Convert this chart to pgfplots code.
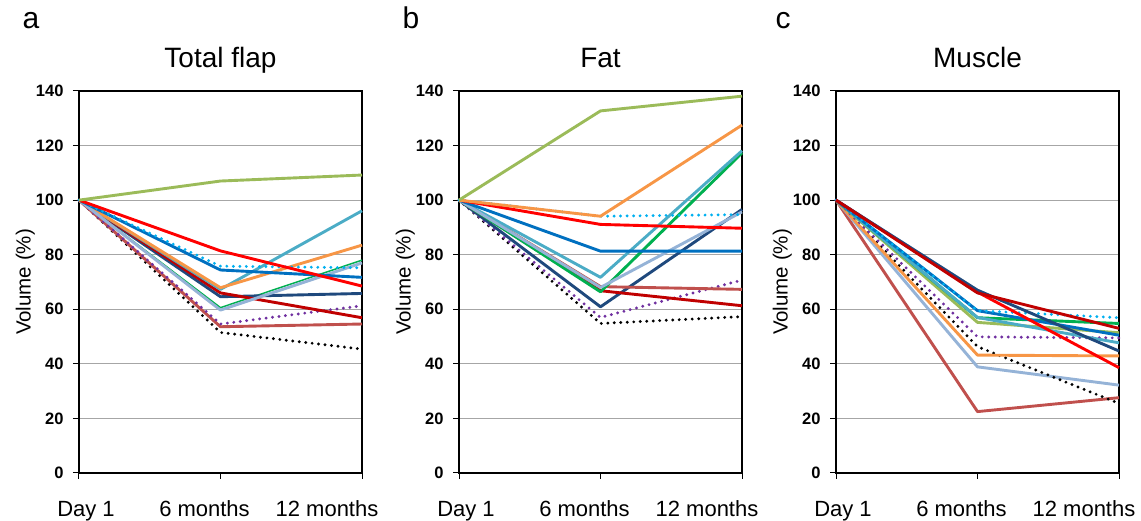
\documentclass[border=0pt]{standalone}
\usepackage{fontspec}
\setmainfont{Liberation Sans}
\usepackage{pgfplots}
\pgfplotsset{compat=1.18}

\definecolor{cOlive}{HTML}{9BBB59}
\definecolor{cRed}{HTML}{FF0000}
\definecolor{cBlue}{HTML}{0070C0}
\definecolor{cSky}{HTML}{00B0F0}
\definecolor{cTeal}{HTML}{4BACC6}
\definecolor{cOrange}{HTML}{F79646}
\definecolor{cDkRed}{HTML}{C00000}
\definecolor{cNavy}{HTML}{1F497D}
\definecolor{cGreen}{HTML}{00B050}
\definecolor{cSteel}{HTML}{95B3D7}
\definecolor{cPurple}{HTML}{7030A0}
\definecolor{cBrick}{HTML}{C0504D}
\definecolor{gridgray}{HTML}{A6A6A6}

\pgfplotsset{
  panel/.style={
    scale only axis, width=283pt, height=382pt, anchor=south west,
    xmin=0, xmax=2, ymin=0, ymax=140,
    ytick={0,20,...,140}, xtick={0,1,2},
    xticklabels={{\hspace*{14pt}Day 1},{6 months\hspace*{32pt}},{12 months\hspace*{70pt}}},
    ymajorgrids, major grid style={color=gridgray, line width=1.1pt},
    axis line style={black, line width=1.1pt},
    tick align=outside, tick pos=left, major tick length=6pt,
    tick style={black, line width=1pt},
    /pgf/number format/assume math mode=true,
    yticklabel style={font=\bfseries\fontsize{16.5}{18}\selectfont, anchor=east, xshift=-6pt},
    xticklabel style={font=\fontsize{22}{24}\selectfont, anchor=base, yshift=-38pt},
    ylabel={Volume (\%)},
    ylabel style={at={(axis description cs:-0.19,0.5)}, anchor=center,
      font=\fontsize{20.5}{24}\selectfont},
    title style={at={(axis description cs:0.5,1)}, anchor=base, yshift=17pt,
      font=\fontsize{28}{30}\selectfont},
    clip=false,
  },
  sl/.style={line width=2.9pt, line join=round},
  sd/.style={line width=3.2pt, line cap=round, dash pattern=on 0pt off 6.5pt},
}

\begin{document}
\begin{tikzpicture}
\path[use as bounding box] (0,0) rectangle (1141pt,521pt);

\node[anchor=base west, font=\fontsize{30}{32}\selectfont] at (19pt,492pt) {a};
\node[anchor=base west, font=\fontsize{30}{32}\selectfont] at (399pt,492pt) {b};
\node[anchor=base west, font=\fontsize{30}{32}\selectfont] at (772pt,492pt) {c};

% a: total flap
\begin{axis}[panel, at={(79pt,48pt)}, title={Total flap}]
\addplot[sd, black] coordinates {(0,100) (1,51.5) (2,45.4)};
\addplot[sl, cBrick] coordinates {(0,100) (1,53.6) (2,54.6)};
\addplot[sd, cPurple] coordinates {(0,100) (1,54.6) (2,61.3)};
\addplot[line width=1.5pt, cGreen] coordinates {(0,100) (1,60.6) (2,78.0)};
\addplot[sl, cNavy] coordinates {(0,100) (1,64.6) (2,65.8)};
\addplot[sl, cDkRed] coordinates {(0,100) (1,66.0) (2,56.9)};
\addplot[sl, cTeal] coordinates {(0,100) (1,67.3) (2,96.1)};
\addplot[sl, cOrange] coordinates {(0,100) (1,67.9) (2,83.5)};
\addplot[sl, cSteel] coordinates {(0,100) (1,59.7) (2,77.0)};
\addplot[sl, cBlue] coordinates {(0,100) (1,74.4) (2,71.7)};
\addplot[sd, cSky] coordinates {(0,100) (1,75.8) (2,75.2)};
\addplot[sl, cRed] coordinates {(0,100) (1,81.4) (2,68.5)};
\addplot[sl, cOlive] coordinates {(0,100) (1,107.0) (2,109.2)};
\end{axis}

% b: fat
\begin{axis}[panel, at={(459pt,48pt)}, title={Fat}]
\addplot[sd, black] coordinates {(0,100) (1,54.8) (2,57.3)};
\addplot[sd, cPurple] coordinates {(0,100) (1,57.0) (2,70.7)};
\addplot[sl, cNavy] coordinates {(0,100) (1,60.9) (2,96.6)};
\addplot[sl, cDkRed] coordinates {(0,100) (1,66.8) (2,61.3)};
\addplot[sl, cBrick] coordinates {(0,100) (1,68.3) (2,67.3)};
\addplot[sl, cGreen] coordinates {(0,100) (1,66.4) (2,117.3)};
\addplot[sl, cTeal] coordinates {(0,100) (1,71.7) (2,118.1)};
\addplot[sl, cSteel] coordinates {(0,100) (1,68.0) (2,95.7)};
\addplot[sl, cBlue] coordinates {(0,100) (1,81.3) (2,81.3)};
\addplot[sl, cRed] coordinates {(0,100) (1,91.1) (2,89.7)};
\addplot[sd, cSky] coordinates {(0,100) (1,94.1) (2,94.7)};
\addplot[sl, cOrange] coordinates {(0,100) (1,94.1) (2,127.5)};
\addplot[sl, cOlive] coordinates {(0,100) (1,132.7) (2,138.1)};
\end{axis}

% c: muscle
\begin{axis}[panel, at={(836pt,48pt)}, title={Muscle}]
\addplot[sl, cBrick] coordinates {(0,100) (1,22.5) (2,27.6)};
\addplot[sl, cSteel] coordinates {(0,100) (1,38.9) (2,32.2)};
\addplot[sd, black] coordinates {(0,100) (1,46.3) (2,25.5)};
\addplot[sl, cOrange] coordinates {(0,100) (1,43.2) (2,42.9)};
\addplot[sd, cPurple] coordinates {(0,100) (1,49.9) (2,49.5)};
\addplot[sl, cOlive] coordinates {(0,100) (1,55.2) (2,51.4)};
\addplot[sl, cGreen] coordinates {(0,100) (1,56.9) (2,54.8)};
\addplot[sl, cTeal] coordinates {(0,100) (1,57.0) (2,47.7)};
\addplot[sl, cBlue] coordinates {(0,100) (1,59.5) (2,50.5)};
\addplot[sd, cSky] coordinates {(0,100) (1,59.5) (2,56.9)};
\addplot[sl, cRed] coordinates {(0,100) (1,66.3) (2,38.6)};
\addplot[sl, cNavy] coordinates {(0,100) (1,67.0) (2,44.7)};
\addplot[sl, cDkRed] coordinates {(0,100) (1,66.0) (2,53.0)};
\end{axis}
\end{tikzpicture}
\end{document}
